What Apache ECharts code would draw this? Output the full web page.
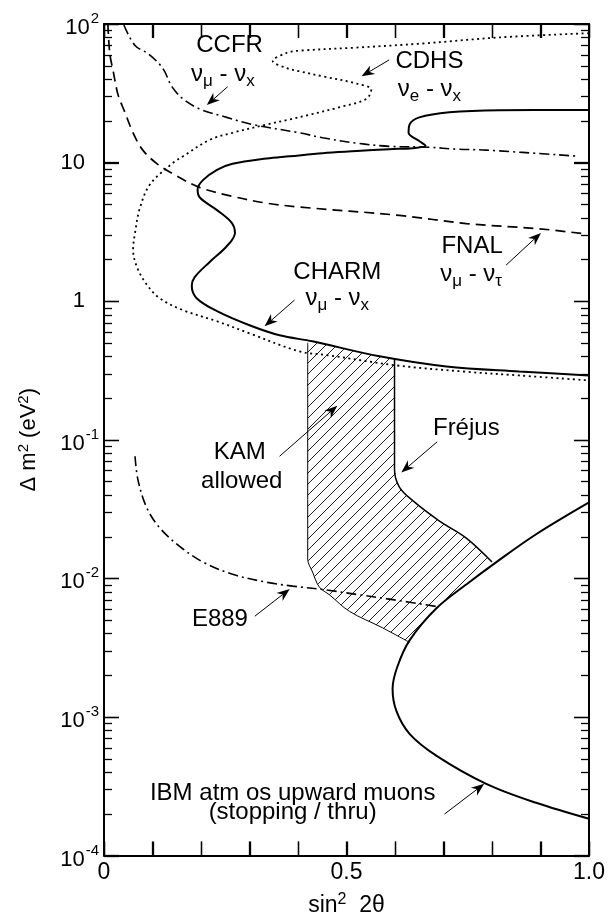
<!DOCTYPE html>
<html><head><meta charset="utf-8">
<script src="https://cdn.jsdelivr.net/npm/echarts@6/dist/echarts.min.js"></script>
<style>html,body{margin:0;padding:0;background:#fff;overflow:hidden}#c{width:608px;height:922px}</style>
</head><body><div id="c"></div><script>
// ---- data (x = sin^2 2theta, y = delta m^2 in eV^2) ----
const ccfr = [[0.041,98.3],[0.064,69.9],[0.091,61],[0.121,48],[0.140,35.3],[0.163,28.8],[0.198,24.3],[0.253,21.2],[0.307,18.8],[0.403,16.4],[0.451,15.1],[0.521,13.8],[0.588,13.1],[0.671,12.9],[0.726,12.5],[0.788,12.3],[0.979,11.1]];
const fnal = [[0.008,100],[0.012,61],[0.019,45.6],[0.029,30.8],[0.043,23.1],[0.060,16.4],[0.080,12.3],[0.109,9.84],[0.150,8.0],[0.198,6.6],[0.265,5.7],[0.335,5.1],[0.403,4.78],[0.609,4.16],[0.747,3.63],[0.897,3.33],[0.994,3.05]];
const charm = [[1.0,24],[0.815,23.9],[0.712,23.1],[0.650,21.2],[0.630,18.8],[0.628,16.4],[0.650,14.3],[0.663,13.2],[0.636,12.7],[0.588,12.5],[0.521,12.1],[0.451,11.7],[0.383,11.1],[0.335,10.7],[0.265,9.8],[0.233,8.87],[0.204,7.47],[0.193,6.4],[0.198,5.57],[0.233,4.54],[0.263,3.69],[0.270,3.11],[0.253,2.49],[0.218,1.92],[0.187,1.49],[0.181,1.29],[0.191,1.05],[0.233,0.847],[0.300,0.67],[0.362,0.567],[0.430,0.513],[0.568,0.40],[0.706,0.338],[0.856,0.311],[1.0,0.291]];
const cdhs = [[1.0,85.8],[0.815,80],[0.656,72.3],[0.521,67.6],[0.403,64.2],[0.377,62],[0.348,54],[0.377,48],[0.403,45.6],[0.451,41.9],[0.521,37.2],[0.551,33.6],[0.541,28.8],[0.486,25.1],[0.418,21.9],[0.383,20.5],[0.335,18.8],[0.265,16.4],[0.218,14.6],[0.163,11.1],[0.140,9.8],[0.095,6.97],[0.074,4.7],[0.064,3.11],[0.060,2.36],[0.068,1.76],[0.088,1.32],[0.115,1.05],[0.163,0.861],[0.233,0.716],[0.300,0.586],[0.403,0.434],[0.465,0.406],[0.603,0.344],[0.739,0.311],[0.856,0.291],[1.0,0.268]];
const e889 = [[0.064,0.076],[0.070,0.0514],[0.088,0.0324],[0.115,0.0231],[0.156,0.017],[0.204,0.0131],[0.265,0.0107],[0.335,0.00937],[0.389,0.00879],[0.459,0.00824],[0.527,0.0076],[0.595,0.00702],[0.685,0.00627]];
const frejus = [[0.599,0.386],[0.599,0.168],[0.599,0.1],[0.599,0.061],[0.609,0.0456],[0.636,0.0365],[0.691,0.026],[0.747,0.0195],[0.800,0.0131]];
const ibm = [[1.0,0.0353],[0.891,0.0208],[0.809,0.0131],[0.753,0.00937],[0.685,0.00606],[0.630,0.00357],[0.605,0.00231],[0.595,0.0016],[0.603,0.0011],[0.630,0.000755],[0.685,0.000526],[0.788,0.000329],[0.891,0.00024],[1.0,0.000184]];
const kamEdge = [[0.420,0.50],[0.420,0.1],[0.420,0.0138],[0.430,0.0111],[0.444,0.00865],[0.465,0.0076],[0.506,0.00578],[0.574,0.0044],[0.630,0.00345]];
const kamRegion = [[0.420,0.50],[0.420,0.0138],[0.430,0.0111],[0.444,0.00865],[0.465,0.0076],[0.506,0.00578],[0.574,0.0044],[0.630,0.00345],[0.685,0.00606],[0.753,0.00937],[0.800,0.0131],[0.747,0.0195],[0.691,0.026],[0.636,0.0365],[0.609,0.0456],[0.599,0.061],[0.599,0.386],[0.568,0.40],[0.500,0.45],[0.430,0.513]];

// annotations: position [x, y] and text
const annX = [0.259,0.245,0.671,0.671,0.759,0.757,0.481,0.481,0.280,0.284,0.747,0.239,0.389,0.389];
const annY = [69.9,43.4,54.1,33.6,2.49,1.56,1.62,1.05,0.0815,0.0497,0.12,0.00508,2.81e-4,2.06e-4];
const annText = ['CCFR','{n|ν}{b|μ}{n| - ν}{b|x}','CDHS','{n|ν}{b|e}{n| - ν}{b|x}','FNAL','{n|ν}{b|μ}{n| - ν}{b|τ}','CHARM','{n|ν}{b|μ}{n| - ν}{b|x}','KAM','allowed','Fréjus','E889','IBM atm os upward muons','(stopping / thru)'];
// arrows: [tailX, tailY, headX, headY]
const arrows = [[0.255,35.3,0.212,26],[0.588,55.1,0.531,41.9],[0.829,1.82,0.901,3.11],[0.393,1.02,0.331,0.659],[0.362,0.076,0.481,0.176],[0.687,0.0967,0.613,0.058],[0.311,0.00533,0.383,0.00838],[0.702,0.000199,0.784,0.000329]];

// tick positions and labels
const xTicks = [0,0.1,0.2,0.3,0.4,0.5,0.6,0.7,0.8,0.9,1.0];
const xTickLabels = {0:'0',5:'0.5',10:'1.0'};
const yMajor = [1e-4,1e-3,1e-2,1e-1,1,10,100];
const yMinor = [];
for (let e = -4; e < 2; e++) for (let m = 2; m <= 9; m++) yMinor.push(+(m * Math.pow(10, e)).toPrecision(3));

// ---- rendering ----
const FONT = 'Liberation Sans, Arial, Helvetica, sans-serif';
const black = '#000';
const pc = document.createElement('canvas'); pc.width = 11; pc.height = 11;
const g = pc.getContext('2d'); g.strokeStyle = '#222'; g.lineWidth = 1;
g.beginPath(); g.moveTo(-1,12); g.lineTo(12,-1); g.moveTo(-1,1); g.lineTo(1,-1); g.moveTo(10,12); g.lineTo(12,10); g.stroke();

function xAx(pos, labels) {
  return {type:'value', min:0, max:1, interval:0.1, position:pos,
    axisLine:{show:true, onZero:false, lineStyle:{color:black, width:2}},
    axisTick:{show:true, inside:true, length:14, lineStyle:{color:black, width:1.3}},
    splitLine:{show:false},
    axisLabel:{show:labels, margin:6, fontSize:23, fontFamily:FONT, color:black,
      formatter: v => { const k = Math.round(v*10); return xTickLabels[k] !== undefined ? xTickLabels[k] : ''; }},
    name: labels ? 'sin{s|2}  2θ' : '', nameLocation:'middle', nameGap:36,
    nameTextStyle:{fontSize:23, fontFamily:FONT, color:black, rich:{s:{fontSize:16, fontFamily:FONT, color:black, padding:[0,0,12,0]}}}
  };
}
function yAx(pos, labels) {
  return {type:'log', logBase:10, min:1e-4, max:100, position:pos, splitNumber:6,
    axisLine:{show:true, onZero:false, lineStyle:{color:black, width:2}},
    axisTick:{show:true, inside:true, length:15, lineStyle:{color:black, width:1.3}},
    splitLine:{show:false}, minorTick:{show:false},
    axisLabel:{show:labels, margin:5, fontSize:22, fontFamily:FONT, color:black,
      formatter: v => { const e = Math.round(Math.log10(v));
        if (e === 0) return '{b|1}{sp| }';
        if (e === 1) return '{b|10}{sp| }';
        return '{c|10}{s|' + e + '}'; },
      rich:{ b:{fontSize:22, fontFamily:FONT, color:black},
             sp:{width:14, fontSize:22},
             c:{fontSize:22, fontFamily:FONT, color:black, padding:[8,0,0,0]},
             s:{fontSize:15, fontFamily:FONT, color:black, padding:[0,0,10,1]} }},
    name: labels ? '{a|Δ m}{s|2}{a| (eV}{s|2}{a|)}' : '', nameLocation:'middle', nameGap:63, nameRotate:90,
    nameTextStyle:{rich:{a:{fontSize:22, fontFamily:FONT, color:black}, s:{fontSize:15, fontFamily:FONT, color:black, padding:[0,0,10,0]}}}
  };
}
function line(data, width, type) {
  return {type:'line', data, xAxisIndex:0, yAxisIndex:0, showSymbol:false, symbol:'none', smooth:0.35, silent:true,
    lineStyle:{color:black, width, type}, z:3};
}
// tick items: [x, y, kind] kind 0 = x tick, 1 = y major, 2 = y minor
const tickItems = xTicks.map(v => [v, 1, 0]).concat(yMajor.map(v => [0.5, v, 1]), yMinor.map(v => [0.5, v, 2]));

const chart = echarts.init(document.getElementById('c'), null, {renderer:'canvas', width:608, height:922});
chart.setOption({
  animation:false, backgroundColor:'#fff',
  grid:{left:104, right:18, top:24, bottom:66, containLabel:false},
  xAxis:[xAx('bottom', true), xAx('top', false)],
  yAxis:[yAx('left', true), yAx('right', false)],
  series:[
    {type:'custom', xAxisIndex:0, yAxisIndex:0, data:kamRegion, silent:true, z:1,
     renderItem:(params, api) => {
       if (params.dataIndex !== 0) return null;
       return {type:'polygon', shape:{points: kamRegion.map(p => api.coord(p))},
         style:{fill:{image:pc, repeat:'repeat'}, stroke:null}};
     }},
    line(kamEdge, 1, 'solid'),
    line(charm, 2, 'solid'),
    line(cdhs, 1.8, [2,3.5]),
    line(ccfr, 1.6, [10,4,2,4]),
    line(fnal, 1.7, [10,6]),
    line(e889, 1.6, [10,4,2,4]),
    line(frejus, 1.5, 'solid'),
    line(ibm, 2, 'solid'),
    {type:'custom', xAxisIndex:0, yAxisIndex:0, data:arrows, silent:true, z:5, encode:{x:[0,2], y:[1,3]},
     renderItem:(params, api) => {
       const p0 = api.coord([api.value(0), api.value(1)]);
       const p1 = api.coord([api.value(2), api.value(3)]);
       const dx = p1[0]-p0[0], dy = p1[1]-p0[1], len = Math.hypot(dx, dy) || 1, ux = dx/len, uy = dy/len;
       const L = 13, W = 5, N = 9;
       const bs = [p1[0]-ux*L, p1[1]-uy*L], nt = [p1[0]-ux*N, p1[1]-uy*N];
       const lf = [bs[0]-uy*W, bs[1]+ux*W], rt = [bs[0]+uy*W, bs[1]-ux*W];
       return {type:'group', children:[
         {type:'line', shape:{x1:p0[0], y1:p0[1], x2:nt[0], y2:nt[1]}, style:{stroke:black, lineWidth:1}},
         {type:'polygon', shape:{points:[p1, lf, nt, rt]}, style:{fill:black}}
       ]};
     }},
    {type:'custom', xAxisIndex:0, yAxisIndex:0, silent:true, z:6,
     data: annX.map((x, i) => [x, annY[i], i]),
     renderItem:(params, api) => {
       const p = api.coord([api.value(0), api.value(1)]);
       return {type:'text', x:p[0], y:p[1], style:{text: annText[api.value(2)], align:'center', verticalAlign:'middle',
         fontSize:24, fontFamily:FONT, fill:black,
         rich:{n:{fontSize:24, fontFamily:FONT, fill:black}, b:{fontSize:17, fontFamily:FONT, fill:black, padding:[14,0,0,0]}}}};
     }},
    // inward ticks on all four sides, placed through the axes' scales
    {type:'custom', xAxisIndex:0, yAxisIndex:0, silent:true, z:7, data: tickItems,
     renderItem:(params, api) => {
       try {
         const kind = api.value(2);
         const p = api.coord([api.value(0), api.value(1)]);
         const xl = api.coord([0, 1])[0], xr = api.coord([1, 1])[0];
         const yt = api.coord([0.5, 100])[1], yb = api.coord([0.5, 1e-4])[1];
         const st = {stroke:black, lineWidth:1.3};
         if (kind === 0) {
           const x = Math.round(p[0]) + 0.5;
           return {type:'group', children:[
             {type:'line', shape:{x1:x, y1:yb, x2:x, y2:yb-14}, style:st},
             {type:'line', shape:{x1:x, y1:yt, x2:x, y2:yt+14}, style:st}]};
         }
         const tl = kind === 1 ? 15 : 8;
         const y = Math.round(p[1]) + 0.5;
         return {type:'group', children:[
           {type:'line', shape:{x1:xl, y1:y, x2:xl+tl, y2:y}, style:st},
           {type:'line', shape:{x1:xr, y1:y, x2:xr-tl, y2:y}, style:st}]};
       } catch (e) { return null; }
     }}
  ]
});
</script></body></html>
